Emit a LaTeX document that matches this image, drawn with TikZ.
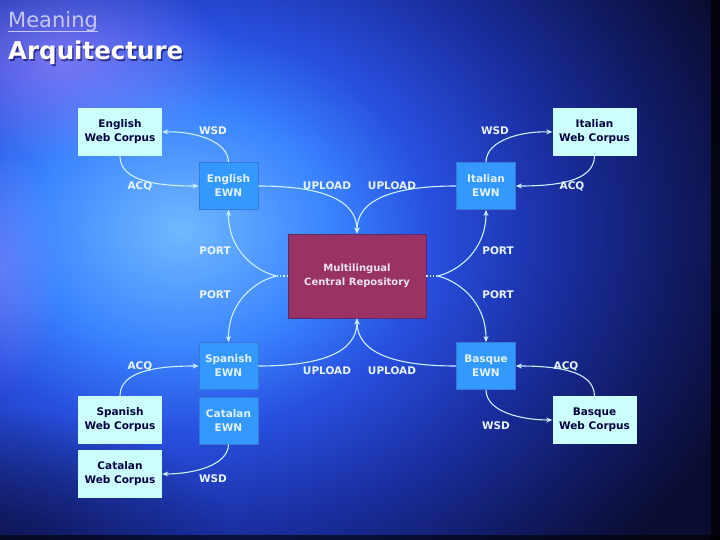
\documentclass[tikz,border=0pt]{standalone}
\usepackage{fontspec}
\setmainfont{DejaVu Sans}
\usetikzlibrary{arrows.meta,calc,fadings}
\definecolor{corpusfill}{HTML}{CCFFFF}
\definecolor{corpustext}{HTML}{000040}
\definecolor{ewnfill}{HTML}{3399FF}
\definecolor{ewnline}{HTML}{3A78D8}
\definecolor{ewntext}{HTML}{E2F2FF}
\definecolor{repofill}{HTML}{993366}
\definecolor{repoline}{HTML}{5A2A6A}
\definecolor{repotext}{HTML}{ECE2F2}
\definecolor{conncol}{HTML}{CCF0FF}
\definecolor{labcol}{HTML}{E8F4FF}
\definecolor{titlecol}{HTML}{C4C8F0}
\definecolor{bgA}{HTML}{70B8FF}
\definecolor{bgB}{HTML}{3A84FF}
\definecolor{bgC}{HTML}{2850E0}
\definecolor{bgD}{HTML}{1A2EA0}
\definecolor{bgE}{HTML}{101A60}
\definecolor{bgF}{HTML}{0A0C30}
\definecolor{glowpurple}{HTML}{B890FF}
\pgfdeclareradialshading{bgglow}{\pgfpoint{0bp}{0bp}}{color(0bp)=(bgA); color(3.75bp)=(bgB); color(6.25bp)=(bgC); color(9.5bp)=(bgD); color(12.5bp)=(bgE); color(15bp)=(bgF); color(50bp)=(bgF)}
\tikzfading[name=glowfade, inner color=transparent!0, outer color=transparent!100]
\begin{document}
\begin{tikzpicture}[x=1pt,y=-1pt,
  corpus/.style={rectangle, fill=corpusfill, text=corpustext, minimum width=84pt, minimum height=48pt, inner sep=1pt, align=center, font=\bfseries\fontsize{10.5}{14}\selectfont},
  ewn/.style={rectangle, fill=ewnfill, draw=ewnline, line width=0.8pt, text=ewntext, minimum width=59pt, minimum height=47pt, inner sep=1pt, align=center, font=\bfseries\fontsize{10.5}{14}\selectfont},
  repo/.style={rectangle, fill=repofill, draw=repoline, line width=0.8pt, text=repotext, minimum width=138pt, minimum height=84pt, align=center, font=\bfseries\fontsize{10}{14}\selectfont},
  lab/.style={text=labcol, inner sep=0pt, font=\bfseries\fontsize{10.5}{12}\selectfont},
  conn/.style={draw=conncol, line width=1.1pt, -{Stealth[length=6pt,width=5pt]}},
  dots/.style={draw=conncol, line width=1.1pt, dotted}
]
\useasboundingbox (0,0) rectangle (720,540);
% background
\fill[bgF] (0,0) rectangle (720,540);
\begin{scope}
  \clip (0,0) rectangle (720,540);
  \shade[shading=bgglow] (180,230) ellipse (1000 and 800);
  \fill[glowpurple, opacity=0.55, path fading=glowfade] (60,60) ellipse (170 and 100);
  \fill[glowpurple, opacity=0.35, path fading=glowfade] (0,270) ellipse (60 and 130);
  \fill[bgF, opacity=0.6, path fading=glowfade] (0,540) ellipse (230 and 130);
  \fill[black, opacity=0.75] (711,0) rectangle (720,540);
  \fill[black, opacity=0.6] (0,535) rectangle (720,540);
\end{scope}
% title
\node[anchor=base west, inner sep=0pt, text=titlecol, font=\fontsize{21}{25}\selectfont] (meaning) at (8,28) {Meaning};
\draw[titlecol, line width=1pt] ($(meaning.base west)+(0,3.5)$) -- ($(meaning.base east)+(0,3.5)$);
\node[anchor=base west, inner sep=0pt, text=black!70!blue, opacity=0.55, font=\bfseries\fontsize{24.5}{28}\selectfont] (archshadow) at (9.5,61.5) {Arquitecture};
\node[anchor=base west, inner sep=0pt, text=white, font=\bfseries\fontsize{24.5}{28}\selectfont] (arch) at (8,60) {Arquitecture};
% nodes
\node[corpus] (ewc) at (120,132) {English\\Web Corpus};
\node[ewn] (een) at (228.5,186) {English\\EWN};
\node[ewn] (ien) at (486,186) {Italian\\EWN};
\node[corpus] (iwc) at (594.5,132) {Italian\\Web Corpus};
\node[repo] (repo) at (357,276) {Multilingual\\Central Repository};
\node[ewn] (sen) at (228.5,366) {Spanish\\EWN};
\node[ewn] (cen) at (228.5,420.5) {Catalan\\EWN};
\node[corpus] (swc) at (120,420) {Spanish\\Web Corpus};
\node[corpus] (cwc) at (120,474) {Catalan\\Web Corpus};
\node[ewn] (ben) at (486,366) {Basque\\EWN};
\node[corpus] (bwc) at (594.5,420) {Basque\\Web Corpus};
% fork points
\coordinate (lf) at ($(repo.west)+(-11,0)$);
\coordinate (rf) at ($(repo.east)+(11,0)$);
% English
\draw[conn] (ewc.south) .. controls (120,182) and (160,186) .. (een.west);
\draw[conn] (een.north) .. controls (228,140) and (192,131) .. (ewc.east);
% Italian
\draw[conn] (ien.north) .. controls (486,140) and (522,131) .. (iwc.west);
\draw[conn] (iwc.south) .. controls (594,182) and (555,186) .. (ien.east);
% upload top
\draw[conn] (een.east) .. controls (322,186) and (357,200) .. (repo.north);
\draw[conn] (ien.west) .. controls (392,186) and (357,200) .. (repo.north);
% ports left
\draw[dots] (repo.west) -- (lf);
\draw[conn] (lf) .. controls (258,272) and (228,252) .. (een.south);
\draw[conn] (lf) .. controls (258,280) and (228,300) .. (sen.north);
% ports right
\draw[dots] (repo.east) -- (rf);
\draw[conn] (rf) .. controls (456,272) and (486,252) .. (ien.south);
\draw[conn] (rf) .. controls (456,280) and (486,300) .. (ben.north);
% upload bottom
\draw[conn] (sen.east) .. controls (322,366) and (357,352) .. (repo.south);
\draw[conn] (ben.west) .. controls (392,366) and (357,352) .. (repo.south);
% Spanish / Catalan
\draw[conn] (swc.north) .. controls (120,370) and (160,366) .. (sen.west);
\draw[conn] (cen.south) .. controls (228,466) and (192,474) .. (cwc.east);
% Basque
\draw[conn] (ben.south) .. controls (486,412) and (522,420) .. (bwc.west);
\draw[conn] (bwc.north) .. controls (594,370) and (555,366) .. (ben.east);
% labels
\node[lab] (l1) at (213,131) {WSD};
\node[lab] (l2) at (140,186) {ACQ};
\node[lab] (l3) at (327,186) {UPLOAD};
\node[lab] (l4) at (392,186) {UPLOAD};
\node[lab] (l5) at (495,131) {WSD};
\node[lab] (l6) at (572,186) {ACQ};
\node[lab] (l7) at (215,251) {PORT};
\node[lab] (l8) at (215,295) {PORT};
\node[lab] (l9) at (498,251) {PORT};
\node[lab] (l10) at (498,295) {PORT};
\node[lab] (l11) at (140,366) {ACQ};
\node[lab] (l12) at (327,371) {UPLOAD};
\node[lab] (l13) at (392,371) {UPLOAD};
\node[lab] (l14) at (566,366) {ACQ};
\node[lab] (l15) at (496,426) {WSD};
\node[lab] (l16) at (213,479) {WSD};
\end{tikzpicture}
\end{document}
